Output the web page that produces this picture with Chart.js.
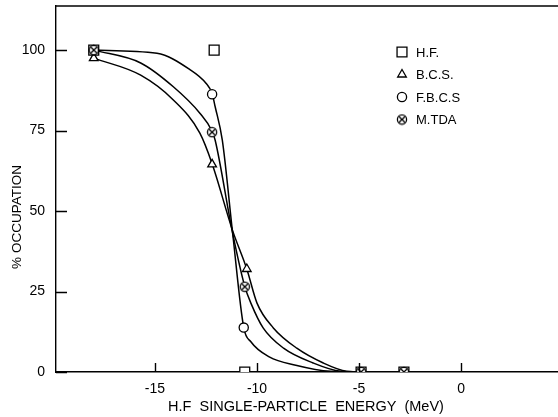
<!DOCTYPE html>
<html>
<head>
<meta charset="utf-8">
<script src="https://cdn.jsdelivr.net/npm/chart.js@4/dist/chart.umd.min.js"></script>
<style>
  html, body { margin: 0; padding: 0; background: #fff; }
  #wrap { width: 558px; height: 417px; }
</style>
</head>
<body>
<div id="wrap"><canvas id="occChart" width="558" height="417"></canvas></div>
<script>
// tick labels
const xTicks = [-15, -10, -5, 0];
const yTicks = [0, 25, 50, 75, 100];

// measured points
const hfX = [-18, -12.1, -10.6, -4.9, -2.8];
const hfY = [100, 100, 0, 0, 0];
const bcsX = [-18, -12.2, -10.5];
const bcsY = [97.5, 64.5, 32];
const fbcsX = [-18, -12.2, -10.65];
const fbcsY = [100, 86.3, 13.8];
const mtdaX = [-18, -12.2, -10.6, -4.9, -2.8];
const mtdaY = [100, 74.5, 26.5, 0, 0];

// hand drawn curves
const fbcsCurveX = [-18, -14.9, -13.3, -12.5, -12.2, -12.05, -11.7, -11.2, -10.65, -10.3, -9.4, -8.1, -6.4, -5];
const fbcsCurveY = [100, 99, 94, 89.7, 86.5, 82.4, 72, 43.5, 13.8, 9.4, 4.7, 2.1, 0.2, 0];
const mtdaCurveX = [-18, -15.7, -14.1, -12.8, -12.2, -12.05, -11.2, -10.6, -10.3, -9.7, -8.7, -7.25, -5.9, -5];
const mtdaCurveY = [100, 96, 88.6, 80.4, 74.8, 72, 43.3, 26.6, 21.4, 13.7, 7.4, 2.8, 0.2, 0];
const bcsCurveX = [-18, -15.7, -14.1, -12.8, -12.2, -11.2, -10.5, -10, -9.2, -8.05, -6.75, -5.6, -5];
const bcsCurveY = [97.5, 92.2, 84.5, 74.2, 64.7, 44, 32, 21.4, 13.7, 7.4, 2.8, 0.2, 0];

const legendLabels = ["H.F.", "B.C.S.", "F.B.C.S", "M.TDA"];

const pts = (xs, ys) => xs.map((x, i) => ({ x: x, y: ys[i] }));

// circle with a cross inside (M.TDA marker)
function crossCircle() {
  const c = document.createElement("canvas");
  c.width = 12; c.height = 12;
  const g = c.getContext("2d");
  g.fillStyle = "#fff";
  g.strokeStyle = "#000";
  g.lineWidth = 1.3;
  g.beginPath(); g.arc(6, 6, 4.6, 0, Math.PI * 2); g.fill(); g.stroke();
  g.beginPath();
  g.moveTo(3.2, 3.2); g.lineTo(8.8, 8.8);
  g.moveTo(8.8, 3.2); g.lineTo(3.2, 8.8);
  g.stroke();
  return c;
}
const mtdaIcon = crossCircle();

const markerBase = {
  showLine: false,
  borderColor: "#000",
  backgroundColor: "#fff",
  pointBackgroundColor: "#fff",
  pointBorderColor: "#000",
  pointBorderWidth: 1.3,
};
const curveBase = {
  showLine: true,
  borderColor: "#000",
  borderWidth: 1.5,
  pointRadius: 0,
  cubicInterpolationMode: "monotone",
  fill: false,
};

const FONT = "'Liberation Sans', Arial, sans-serif";

const noPad = (s) => { s.paddingLeft = 0; s.paddingRight = 0; s.paddingTop = 0; s.paddingBottom = 0; };

const markerStyles = [
  { pointStyle: "rect", pointRadius: 7 },
  { pointStyle: "triangle", pointRadius: 5 },
  { pointStyle: "circle", pointRadius: 4.6 },
  { pointStyle: mtdaIcon, pointRadius: 5 },
];

const extras = {
  id: "extras",
  afterDraw(chart) {
    const ctx = chart.ctx;
    const a = chart.chartArea;
    const xs = chart.scales.x, ys = chart.scales.y;
    ctx.save();
    ctx.strokeStyle = "#000";
    ctx.lineWidth = 1.4;
    // top frame line
    ctx.beginPath();
    ctx.moveTo(a.left, a.top); ctx.lineTo(a.right, a.top);
    ctx.stroke();
    // inward ticks
    ctx.beginPath();
    xTicks.forEach(v => {
      const px = Math.round(xs.getPixelForValue(v)) + 0.5;
      ctx.moveTo(px, a.bottom); ctx.lineTo(px, a.bottom - 9);
    });
    yTicks.forEach(v => {
      const py = Math.round(ys.getPixelForValue(v)) + 0.5;
      ctx.moveTo(a.left, py); ctx.lineTo(a.left + 11, py);
    });
    ctx.stroke();

    // axis titles
    ctx.fillStyle = "#000";
    ctx.font = "14.5px " + FONT;
    ctx.textAlign = "center";
    ctx.textBaseline = "middle";
    ctx.fillText("H.F  SINGLE-PARTICLE  ENERGY  (MeV)", 306, 407);
    ctx.font = "13.5px " + FONT;
    ctx.save();
    ctx.translate(17, 217);
    ctx.rotate(-Math.PI / 2);
    ctx.fillText("% OCCUPATION", 0, 0);
    ctx.restore();

    // legend
    const lx = 402, ly0 = 52, dy = 22.5;
    ctx.textAlign = "left";
    ctx.font = "13px " + FONT;
    markerStyles.forEach((m, i) => {
      const y = ly0 + i * dy;
      ctx.fillStyle = "#fff";
      ctx.strokeStyle = "#000";
      ctx.lineWidth = 1.3;
      Chart.helpers.drawPoint(ctx, {
        pointStyle: m.pointStyle,
        radius: m.pointRadius,
        rotation: 0,
        borderWidth: 1.3,
      }, lx, y);
      ctx.fillStyle = "#000";
      ctx.fillText(legendLabels[i], 416, y + 1);
    });
    ctx.restore();
  },
};

// first dataset is drawn on top
new Chart(document.getElementById("occChart").getContext("2d"), {
  type: "scatter",
  data: {
    datasets: [
      { ...markerBase, ...markerStyles[3], label: legendLabels[3], data: pts(mtdaX, mtdaY) },
      { ...markerBase, ...markerStyles[0], label: legendLabels[0], data: pts(hfX, hfY) },
      { ...markerBase, ...markerStyles[2], label: legendLabels[2], data: pts(fbcsX, fbcsY) },
      { ...markerBase, ...markerStyles[1], label: legendLabels[1], data: pts(bcsX, bcsY) },
      { ...curveBase, label: "fbcs curve", data: pts(fbcsCurveX, fbcsCurveY) },
      { ...curveBase, label: "mtda curve", data: pts(mtdaCurveX, mtdaCurveY) },
      { ...curveBase, label: "bcs curve", data: pts(bcsCurveX, bcsCurveY) },
    ],
  },
  options: {
    responsive: false,
    animation: false,
    layout: { autoPadding: false, padding: { top: 6, right: 0, left: 0, bottom: 0 } },
    scales: {
      x: {
        type: "linear",
        min: -19.85,
        max: 4.75,
        afterFit: (s) => { s.height = 45; noPad(s); },
        afterBuildTicks: (s) => { s.ticks = xTicks.map(v => ({ value: v })); },
        grid: { display: false, drawTicks: false },
        border: { display: true, color: "#000", width: 1.4 },
        ticks: {
          color: "#000",
          padding: 9,
          font: { family: FONT, size: 14 },
          callback: (v) => String(v),
        },
      },
      y: {
        min: 0,
        max: 113.7,
        afterFit: (s) => { s.width = 56; noPad(s); },
        afterBuildTicks: (s) => { s.ticks = yTicks.map(v => ({ value: v })); },
        grid: { display: false, drawTicks: false },
        border: { display: true, color: "#000", width: 1.4 },
        ticks: {
          color: "#000",
          padding: 11,
          font: { family: FONT, size: 14 },
        },
      },
    },
    plugins: {
      legend: { display: false },
      tooltip: { enabled: false },
    },
  },
  plugins: [extras],
});
</script>
</body>
</html>
